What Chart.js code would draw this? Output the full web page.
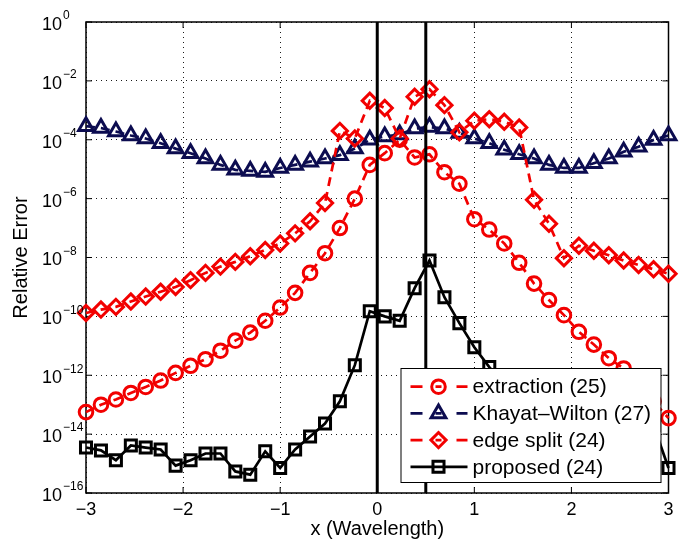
<!DOCTYPE html>
<html>
<head>
<meta charset="utf-8">
<script src="https://cdn.jsdelivr.net/npm/chart.js@4.4.1/dist/chart.umd.min.js"></script>
<style>
  html, body { margin: 0; padding: 0; background: #fff; }
  #wrap { width: 680px; height: 544px; }
</style>
</head>
<body>
<div id="wrap"><canvas id="chart" width="680" height="544"></canvas></div>
<script>
// ---- Data ----
const xPositions = [
  -3, -2.846, -2.692, -2.538, -2.385, -2.231, -2.077, -1.923, -1.769, -1.615,
  -1.462, -1.308, -1.154, -1, -0.846, -0.692, -0.538, -0.385, -0.231, -0.077,
  0.077, 0.231, 0.385, 0.538, 0.692, 0.846, 1, 1.154, 1.308, 1.462,
  1.615, 1.769, 1.923, 2.077, 2.231, 2.385, 2.538, 2.692, 2.846, 3
];

const extraction = [
  5.6e-14, 1.0e-13, 1.5e-13, 2.5e-13, 4.0e-13, 6.6e-13, 1.2e-12, 2.1e-12, 3.5e-12, 6.8e-12,
  1.5e-11, 2.8e-11, 7.1e-11, 2.0e-10, 6.3e-10, 3.0e-9, 1.4e-8, 1.0e-7, 1.0e-6, 1.4e-5,
  3.5e-5, 1.0e-4, 2.5e-5, 3.2e-5, 7.9e-6, 3.2e-6, 2.0e-7, 8.9e-8, 3.0e-8, 6.6e-9,
  1.3e-9, 3.6e-10, 1.1e-10, 3.0e-11, 1.1e-11, 3.8e-12, 1.7e-12, 5.0e-13, 1.3e-13, 3.5e-14
];

const khayatWilton = [
  2.9e-4, 2.5e-4, 1.9e-4, 1.4e-4, 1.1e-4, 7.6e-5, 5.0e-5, 3.5e-5, 2.3e-5, 1.4e-5,
  9.5e-6, 8.7e-6, 8.1e-6, 1.1e-5, 1.4e-5, 1.8e-5, 2.3e-5, 3.0e-5, 5.0e-5, 1.0e-4,
  1.3e-4, 1.5e-4, 2.4e-4, 2.7e-4, 2.4e-4, 1.7e-4, 1.1e-4, 7.6e-5, 4.6e-5, 3.2e-5,
  2.3e-5, 1.4e-5, 1.1e-5, 1.1e-5, 1.6e-5, 2.3e-5, 3.9e-5, 5.8e-5, 9.8e-5, 1.4e-4
];

const edgeSplit = [
  1.3e-10, 1.7e-10, 2.1e-10, 3.2e-10, 4.7e-10, 6.9e-10, 1.0e-9, 1.7e-9, 3.0e-9, 4.9e-9,
  7.1e-9, 1.1e-8, 1.8e-8, 3.0e-8, 6.6e-8, 1.7e-7, 7.1e-7, 2.0e-4, 1.1e-4, 2.1e-3,
  1.2e-3, 1.1e-4, 2.9e-3, 5.2e-3, 1.5e-3, 1.8e-4, 4.4e-4, 5.0e-4, 4.1e-4, 2.6e-4,
  9.1e-7, 1.4e-7, 9.5e-9, 2.5e-8, 1.7e-8, 1.2e-8, 7.9e-9, 5.6e-9, 4.0e-9, 2.8e-9
];

const proposed = [
  3.5e-15, 2.8e-15, 1.3e-15, 4.1e-15, 3.5e-15, 3.0e-15, 8.5e-16, 1.3e-15, 2.2e-15, 2.2e-15,
  5.4e-16, 4.2e-16, 2.6e-15, 7.1e-16, 3.0e-15, 8.3e-15, 2.3e-14, 1.3e-13, 2.2e-12, 1.5e-10,
  1.0e-10, 7.1e-11, 9.1e-10, 7.9e-9, 4.5e-10, 5.9e-11, 8.9e-12, 1.9e-12, 5.0e-13, 1.6e-13,
  5.0e-14, 1.6e-14, 5.0e-15, 2.0e-15, 1.3e-15, 1.6e-15, 2.5e-15, 5.0e-15, 2.0e-14, 7.1e-16
];

const markerLinesX = [0, 0.5];
const xTicks = [-3, -2, -1, 0, 1, 2, 3];
const yTicks = [1e-16, 1e-14, 1e-12, 1e-10, 1e-8, 1e-6, 1e-4, 1e-2, 1];
const seriesLabels = ['extraction (25)', 'Khayat\u2013Wilton (27)', 'edge split (24)', 'proposed (24)'];

// ---- Styling ----
const FONT = '"Liberation Sans", Arial, Helvetica, sans-serif';
const RED = 'rgb(242,0,0)';
const NAVY = '#0c0c50';

const toPoints = ys => ys.map((y, i) => ({ x: xPositions[i], y: y }));

const seriesStyle = (label, data, color, pointStyle, radius, dashed, order) => ({
    label: label,
    data: toPoints(data),
    borderColor: color,
    borderWidth: 2.7,
    borderDash: dashed ? [9, 6] : [],
    pointStyle: pointStyle,
    pointRadius: radius,
    pointBorderWidth: 3,
    pointBorderColor: color,
    pointBackgroundColor: 'rgba(0,0,0,0)',
    tension: 0,
    clip: false,
    inLegend: true,
    order: order
});

const vlineSets = markerLinesX.map(x => ({
    label: 'x = ' + x,
    data: [{ x: x, y: yTicks[0] }, { x: x, y: yTicks[yTicks.length - 1] }],
    borderColor: '#000',
    borderWidth: 3,
    pointRadius: 0,
    order: 0
}));

const datasets = [
    seriesStyle(seriesLabels[0], extraction, RED, 'circle', 6.8, true, 4),
    seriesStyle(seriesLabels[1], khayatWilton, NAVY, 'triangle', 8.5, true, 3),
    seriesStyle(seriesLabels[2], edgeSplit, RED, 'rectRot', 7.6, true, 2),
    seriesStyle(seriesLabels[3], proposed, '#000', 'rect', 7.8, false, 1),
    ...vlineSets
];

// ---- Plugins: box with inward ticks, superscript y labels, boxed legend ----
const axesBox = {
    id: 'axesBox',
    beforeDatasetsDraw(chart) {
        const { ctx, chartArea: a, scales } = chart;
        ctx.save();
        ctx.strokeStyle = '#000';
        ctx.lineWidth = 1.5;
        ctx.strokeRect(a.left, a.top, a.right - a.left, a.bottom - a.top);
        ctx.lineWidth = 1;
        ctx.beginPath();
        xTicks.forEach(v => {
            const px = scales.x.getPixelForValue(v);
            ctx.moveTo(px, a.bottom); ctx.lineTo(px, a.bottom - 6);
            ctx.moveTo(px, a.top); ctx.lineTo(px, a.top + 6);
        });
        yTicks.forEach(v => {
            const py = scales.y.getPixelForValue(v);
            ctx.moveTo(a.left, py); ctx.lineTo(a.left + 6, py);
            ctx.moveTo(a.right, py); ctx.lineTo(a.right - 6, py);
        });
        ctx.stroke();
        ctx.restore();
    },
    afterDraw(chart) {
        const { ctx, chartArea: a, scales } = chart;
        ctx.save();
        ctx.fillStyle = '#000';
        ctx.textBaseline = 'middle';
        yTicks.forEach(v => {
            const py = scales.y.getPixelForValue(v);
            const exp = Math.round(Math.log10(v));
            const baseRight = a.left - 24;
            ctx.font = '18px ' + FONT;
            ctx.textAlign = 'right';
            ctx.fillText('10', baseRight, py + 3);
            ctx.font = '12px ' + FONT;
            ctx.textAlign = 'left';
            ctx.fillText(exp === 0 ? '0' : '\u2212' + (-exp), baseRight + 1, py - 6);
        });
        ctx.restore();
    }
};

const legendBox = {
    id: 'legendBox',
    afterDatasetsDraw(chart) {
        const { ctx, chartArea: a } = chart;
        const items = chart.data.datasets.filter(d => d.inLegend);
        const w = 260, h = 114, rowH = 26.7;
        const x0 = a.right - 8 - w;
        const y0 = a.bottom - 11 - h;
        ctx.save();
        ctx.fillStyle = '#fff';
        ctx.fillRect(x0, y0, w, h);
        ctx.strokeStyle = '#000';
        ctx.lineWidth = 1;
        ctx.strokeRect(x0 + 0.5, y0 + 0.5, w, h);
        items.forEach((ds, i) => {
            const cy = y0 + 18.7 + i * rowH;
            const lx0 = x0 + 10, lx1 = x0 + 67, mx = x0 + 38;
            ctx.strokeStyle = ds.borderColor;
            ctx.lineWidth = ds.borderWidth;
            ctx.setLineDash([]);
            ctx.beginPath();
            if (ds.borderDash.length) {
                ctx.moveTo(lx0, cy); ctx.lineTo(lx0 + 12, cy);
                ctx.moveTo(lx1 - 11, cy); ctx.lineTo(lx1, cy);
                ctx.moveTo(mx - 3, cy); ctx.lineTo(mx + 3, cy);
            } else {
                ctx.moveTo(lx0, cy); ctx.lineTo(lx1, cy);
            }
            ctx.stroke();
            ctx.fillStyle = 'rgba(0,0,0,0)';
            ctx.lineWidth = ds.pointBorderWidth;
            Chart.helpers.drawPoint(ctx, {
                pointStyle: ds.pointStyle, radius: ds.pointRadius, rotation: 0, borderWidth: ds.pointBorderWidth
            }, mx, cy);
            ctx.fillStyle = '#000';
            ctx.font = '21px ' + FONT;
            ctx.textAlign = 'left';
            ctx.textBaseline = 'middle';
            ctx.fillText(ds.label, x0 + 72, cy + 1);
        });
        ctx.restore();
    }
};

const gridOpts = { color: 'rgba(0,0,0,0.9)', lineWidth: 1, drawTicks: false };

new Chart(document.getElementById('chart'), {
    type: 'line',
    data: { datasets: datasets },
    options: {
        responsive: false,
        animation: false,
        events: [],
        layout: { padding: { top: 22, right: 7, left: 0, bottom: 0 } },
        plugins: { legend: { display: false }, tooltip: { enabled: false } },
        scales: {
            x: {
                type: 'linear',
                min: -3,
                max: 3,
                afterBuildTicks: s => { s.ticks = xTicks.map(v => ({ value: v })); },
                afterFit: s => { s.height = 51; },
                grid: gridOpts,
                border: { display: false, dash: [1, 4] },
                ticks: {
                    color: '#000',
                    padding: 6,
                    font: { family: FONT, size: 18 },
                    callback: v => v < 0 ? '\u2212' + (-v) : String(v)
                },
                title: {
                    display: true,
                    text: 'x (Wavelength)',
                    color: '#000',
                    font: { family: FONT, size: 20 },
                    padding: { top: 0, bottom: 3 }
                }
            },
            y: {
                type: 'logarithmic',
                min: yTicks[0],
                max: yTicks[yTicks.length - 1],
                afterBuildTicks: s => { s.ticks = yTicks.map(v => ({ value: v })); },
                afterFit: s => { s.width = 86; },
                grid: gridOpts,
                border: { display: false, dash: [1, 4] },
                ticks: { display: false },
                title: {
                    display: true,
                    text: 'Relative Error',
                    color: '#000',
                    font: { family: FONT, size: 20 },
                    padding: { top: 9, bottom: 0 }
                }
            }
        }
    },
    plugins: [axesBox, legendBox]
});
</script>
</body>
</html>
